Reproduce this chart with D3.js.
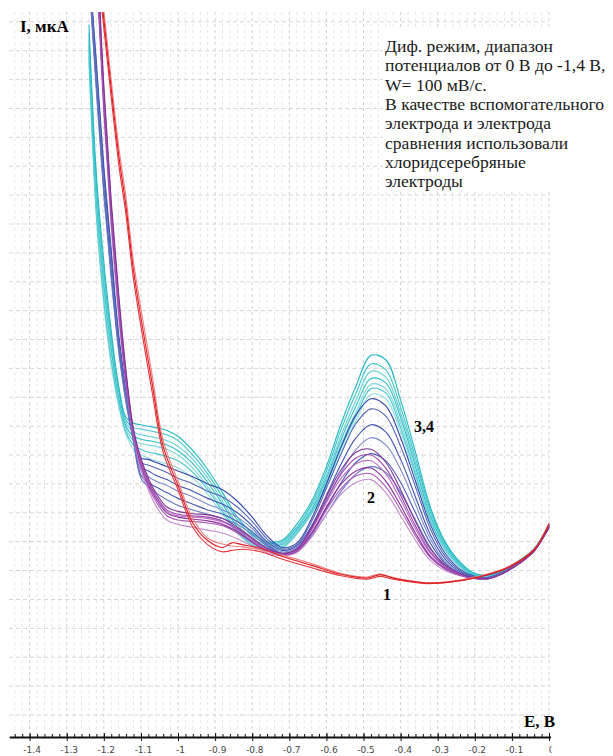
<!DOCTYPE html>
<html>
<head>
<meta charset="utf-8">
<script src="https://cdn.jsdelivr.net/npm/d3@7"></script>
<style>
  body{margin:0;background:#fff;}
  svg{display:block;}
</style>
</head>
<body>
<svg id="svg1" width="613" height="756"></svg>
<script>
'use strict'

// potential grid (V) shared by the coloured scans
let potentials = [-1.24, -1.22, -1.20, -1.18, -1.16, -1.14, -1.12, -1.10, -1.08, -1.06, -1.03, -1.00, -0.96, -0.92, -0.88, -0.84, -0.80, -0.76, -0.72, -0.68, -0.64, -0.60, -0.56, -0.52, -0.48, -0.44, -0.40, -0.36, -0.32, -0.28, -0.24, -0.20, -0.16, -0.12, -0.08, -0.04, 0];

// curves 3,4 (cyan)
let cyan1 = [23.9, 18.7, 15.7, 13.3, 11.4, 10.3, 10.1, 10.05, 10.0, 9.95, 9.85, 9.65, 9.15, 8.5, 7.7, 6.85, 6.3, 6.0, 6.05, 6.6, 7.4, 8.6, 10.1, 11.4, 12.45, 12.3, 10.9, 9.1, 7.2, 6.0, 5.3, 4.9, 4.85, 5.05, 5.35, 5.75, 6.6];
let cyan2 = [23.6, 18.4, 15.4, 13.1, 11.3, 10.2, 9.95, 9.9, 9.85, 9.8, 9.7, 9.5, 9.0, 8.35, 7.55, 6.75, 6.2, 5.95, 6.0, 6.5, 7.3, 8.45, 9.9, 11.15, 12.15, 11.95, 10.65, 8.9, 7.1, 5.95, 5.25, 4.88, 4.85, 5.05, 5.35, 5.75, 6.6];
let cyan3 = [23.4, 18.1, 15.1, 12.9, 11.2, 10.1, 9.8, 9.7, 9.65, 9.6, 9.5, 9.3, 8.85, 8.2, 7.4, 6.6, 6.1, 5.9, 5.95, 6.45, 7.2, 8.3, 9.7, 10.9, 11.9, 11.7, 10.45, 8.75, 7.0, 5.9, 5.22, 4.86, 4.83, 5.03, 5.33, 5.73, 6.6];
let cyan4 = [23.2, 17.9, 14.9, 12.7, 11.0, 10.0, 9.65, 9.55, 9.5, 9.45, 9.35, 9.15, 8.7, 8.05, 7.3, 6.5, 6.0, 5.85, 5.9, 6.4, 7.1, 8.2, 9.55, 10.7, 11.65, 11.5, 10.3, 8.6, 6.9, 5.85, 5.2, 4.85, 4.83, 5.03, 5.33, 5.73, 6.58];
let cyan5 = [23.0, 17.6, 14.6, 12.5, 10.9, 9.9, 9.5, 9.4, 9.35, 9.3, 9.2, 9.0, 8.55, 7.9, 7.15, 6.4, 5.95, 5.8, 5.85, 6.35, 7.05, 8.1, 9.4, 10.5, 11.45, 11.3, 10.1, 8.45, 6.8, 5.8, 5.17, 4.84, 4.82, 5.02, 5.32, 5.72, 6.58];
let cyan6 = [22.8, 17.4, 14.4, 12.3, 10.8, 9.8, 9.35, 9.2, 9.1, 9.05, 8.95, 8.8, 8.4, 7.8, 7.05, 6.35, 5.9, 5.75, 5.8, 6.3, 7.0, 8.0, 9.25, 10.35, 11.3, 11.15, 9.95, 8.35, 6.75, 5.75, 5.15, 4.83, 4.82, 5.02, 5.32, 5.72, 6.58];
let cyan7 = [22.6, 17.2, 14.2, 12.1, 10.7, 9.7, 9.2, 9.0, 8.9, 8.8, 8.7, 8.55, 8.2, 7.65, 6.95, 6.3, 5.85, 5.7, 5.75, 6.25, 6.95, 7.9, 9.1, 10.2, 11.1, 10.95, 9.8, 8.25, 6.7, 5.7, 5.12, 4.82, 4.81, 5.01, 5.31, 5.71, 6.57];

// blue scans
let blue1 = [26, 22.6, 19.0, 16.1, 13.2, 11.3, 9.75, 8.9, 8.85, 8.75, 8.6, 8.45, 8.25, 8.0, 7.8, 7.4, 6.85, 6.2, 5.8, 5.95, 6.8, 8.0, 9.3, 10.4, 10.95, 10.7, 9.6, 8.1, 6.6, 5.6, 5.05, 4.8, 4.78, 4.98, 5.3, 5.7, 6.55];
let blue2 = [26, 22.4, 18.8, 15.9, 13.0, 11.2, 9.65, 8.75, 8.65, 8.55, 8.4, 8.2, 8.0, 7.75, 7.55, 7.2, 6.7, 6.1, 5.75, 5.9, 6.7, 7.85, 9.05, 10.1, 10.6, 10.35, 9.3, 7.9, 6.45, 5.5, 5.0, 4.78, 4.77, 4.97, 5.3, 5.7, 6.55];
let blue3 = [25.8, 22.2, 18.6, 15.7, 12.9, 11.1, 9.6, 8.6, 8.45, 8.3, 8.15, 7.95, 7.75, 7.5, 7.3, 7.0, 6.55, 6.0, 5.7, 5.85, 6.55, 7.6, 8.7, 9.6, 10.05, 9.8, 8.85, 7.55, 6.25, 5.4, 4.95, 4.76, 4.76, 4.96, 5.28, 5.7, 6.55];
let blue4 = [25.8, 22.0, 18.4, 15.5, 12.8, 11.0, 9.55, 8.45, 8.25, 8.1, 7.95, 7.75, 7.55, 7.3, 7.1, 6.85, 6.45, 5.95, 5.65, 5.8, 6.45, 7.4, 8.4, 9.2, 9.6, 9.35, 8.5, 7.3, 6.1, 5.3, 4.9, 4.75, 4.75, 4.95, 5.28, 5.7, 6.55];
let blue5 = [25.6, 21.8, 18.2, 15.3, 12.7, 10.9, 9.5, 8.3, 8.05, 7.9, 7.7, 7.5, 7.3, 7.1, 6.95, 6.7, 6.35, 5.9, 5.6, 5.75, 6.3, 7.15, 8.05, 8.75, 9.05, 8.8, 8.05, 7.0, 5.95, 5.25, 4.88, 4.74, 4.75, 4.95, 5.28, 5.7, 6.55];
let blue6 = [25.5, 21.6, 18.0, 15.1, 12.6, 10.8, 9.45, 8.2, 7.9, 7.7, 7.45, 7.25, 7.1, 6.95, 6.8, 6.6, 6.25, 5.85, 5.58, 5.7, 6.2, 6.95, 7.75, 8.35, 8.6, 8.4, 7.7, 6.75, 5.8, 5.15, 4.85, 4.73, 4.75, 4.95, 5.28, 5.7, 6.55];

// curve 2 (purple)
let purple1 = [30, 26.8, 21.8, 17.8, 14.6, 11.9, 9.9, 8.9, 8.2, 7.7, 7.2, 7.05, 6.97, 6.93, 6.8, 6.5, 6.13, 5.78, 5.6, 5.75, 6.5, 7.55, 8.5, 9.1, 9.2, 8.75, 7.8, 6.7, 5.75, 5.2, 4.9, 4.75, 4.73, 4.93, 5.25, 5.68, 6.5];
let purple2 = [30, 26.5, 21.6, 17.6, 14.4, 11.8, 9.85, 8.8, 8.1, 7.6, 7.1, 6.95, 6.9, 6.85, 6.72, 6.45, 6.1, 5.75, 5.58, 5.72, 6.45, 7.45, 8.35, 8.9, 9.0, 8.55, 7.6, 6.55, 5.65, 5.15, 4.87, 4.74, 4.73, 4.93, 5.25, 5.68, 6.5];
let purple3 = [30, 26.3, 21.4, 17.5, 14.3, 11.7, 9.8, 8.75, 8.05, 7.55, 7.05, 6.9, 6.85, 6.8, 6.68, 6.4, 6.05, 5.72, 5.57, 5.7, 6.4, 7.35, 8.2, 8.7, 8.8, 8.35, 7.45, 6.45, 5.6, 5.12, 4.86, 4.74, 4.73, 4.93, 5.25, 5.68, 6.5];
let purple4 = [30, 26.1, 21.2, 17.3, 14.2, 11.6, 9.75, 8.7, 8.0, 7.5, 7.0, 6.85, 6.78, 6.72, 6.6, 6.35, 6.0, 5.7, 5.56, 5.68, 6.3, 7.2, 8.0, 8.45, 8.55, 8.1, 7.25, 6.3, 5.5, 5.08, 4.85, 4.73, 4.73, 4.93, 5.25, 5.68, 6.5];
let purple5 = [30, 26.0, 21.0, 17.1, 14.0, 11.5, 9.7, 8.6, 7.9, 7.4, 6.9, 6.75, 6.7, 6.65, 6.55, 6.3, 5.97, 5.68, 5.55, 5.66, 6.25, 7.1, 7.85, 8.28, 8.35, 7.9, 7.1, 6.2, 5.45, 5.05, 4.84, 4.73, 4.73, 4.93, 5.25, 5.68, 6.5];
let purple6 = [30, 25.8, 20.8, 16.9, 13.8, 11.4, 9.65, 8.5, 7.8, 7.25, 6.75, 6.6, 6.5, 6.4, 6.3, 6.1, 5.85, 5.62, 5.52, 5.62, 6.15, 6.95, 7.65, 8.05, 8.15, 7.7, 6.9, 6.05, 5.35, 5.0, 4.82, 4.72, 4.73, 4.93, 5.25, 5.68, 6.5];

// curve 1 (red, background) has its own potential grid
let redPotentials = [-1.21, -1.20, -1.16, -1.14, -1.12, -1.07, -1.04, -1.00, -0.96, -0.92, -0.88, -0.855, -0.825, -0.78, -0.71, -0.64, -0.56, -0.49, -0.455, -0.42, -0.33, -0.27, -0.19, -0.11, -0.04, 0];
let red1 = [25.3, 24.1, 19.4, 17.6, 15.4, 11.5, 9.3, 7.95, 6.65, 6.04, 5.8, 5.96, 5.89, 5.78, 5.45, 5.18, 4.87, 4.74, 4.86, 4.74, 4.57, 4.6, 4.77, 5.1, 5.72, 6.6];
let red2 = [25.0, 23.8, 19.1, 17.3, 15.1, 11.2, 9.1, 7.8, 6.5, 5.9, 5.65, 5.7, 5.74, 5.66, 5.36, 5.1, 4.82, 4.7, 4.8, 4.7, 4.55, 4.6, 4.78, 5.12, 5.74, 6.62];
let red3 = [25.6, 24.4, 19.7, 17.9, 15.7, 11.8, 9.5, 8.1, 6.8, 6.12, 5.92, 5.85, 5.82, 5.72, 5.5, 5.24, 4.9, 4.78, 4.88, 4.76, 4.58, 4.62, 4.8, 5.12, 5.74, 6.65];

// x axis ticks
let xTicks = [-1.4, -1.3, -1.2, -1.1, -1.0, -0.9, -0.8, -0.7, -0.6, -0.5, -0.4, -0.3, -0.2, -0.1, 0];
let xTickLabels = ["-1.4", "-1.3", "-1.2", "-1.1", "-1", "-0.9", "-0.8", "-0.7", "-0.6", "-0.5", "-0.4", "-0.3", "-0.2", "-0.1", "0"];

let noteLines = ["Диф. режим, диапазон", "потенциалов от 0 В до -1,4 В,", "W= 100 мВ/с.", "В качестве вспомогательного", "электрода и электрода", "сравнения использовали", "хлоридсеребряные", "электроды"];

let cyanSet   = [cyan7, cyan6, cyan5, cyan4, cyan3, cyan2, cyan1];
let cyanCols  = ["#8fdde0", "#43c6cc", "#7ad8dc", "#2fbdc5", "#5fd0d4", "#3cc3ca", "#22b8c2"];
let blueSet   = [blue1, blue2, blue3, blue4, blue5, blue6];
let blueCols  = ["#3347a8", "#5565b8", "#3d52b0", "#7b89ca", "#4a5cb5", "#6676c2"];
let purpleSet = [purple6, purple5, purple4, purple3, purple2, purple1];
let purpleCols = ["#c48ccf", "#a658b5", "#8a2f9b", "#b56dc2", "#9d45ad", "#7f3596"];
let redSet    = [red3, red2, red1];
let redCols   = ["#ec8080", "#e4363c", "#dd1a20"];


/**
 * @function
 * @description draw the voltammogram
 */
function drawChart(){
  let svg = d3.select("#svg1");

  let x = d3.scaleLinear().domain([-1.455, 0.004]).range([9.2, 550.5]);
  let y = d3.scaleLinear().domain([-0.762, 24.34]).range([737, 12]);

  // minor grid (every 0.02 V), major every 0.1 V
  let minorX = d3.range(-1.44, 0.001, 0.02).map(d => Math.round(d * 100) / 100);
  let grid = svg.append("g").attr("class", "grid");
  grid.selectAll(".vminor")
    .data(minorX)
    .enter().append("line")
      .attr("x1", d => x(d)).attr("x2", d => x(d))
      .attr("y1", 12).attr("y2", 733)
      .attr("stroke", d => (Math.abs(d * 10 - Math.round(d * 10)) < 1e-6) ? "#d0d0d0" : "#e6e6e6")
      .attr("stroke-width", 1)
      .attr("stroke-dasharray", "3,3");

  grid.selectAll(".hline")
    .data(d3.range(0, 25))
    .enter().append("line")
      .attr("x1", 9).attr("x2", x(0))
      .attr("y1", d => y(d)).attr("y2", d => y(d))
      .attr("stroke", "#d6d6d6")
      .attr("stroke-width", 1)
      .attr("stroke-dasharray", "4,3");

  // white box behind the note
  svg.append("rect")
    .attr("x", 383).attr("y", 30).attr("width", 230).attr("height", 162)
    .attr("fill", "#fff");

  // curves
  svg.append("clipPath").attr("id", "plotClip")
    .append("rect").attr("x", 9).attr("y", 12).attr("width", 542).attr("height", 725);

  let plot = svg.append("g").attr("clip-path", "url(#plotClip)");

  let line = d3.line()
    .x(d => x(d[0]))
    .y(d => y(d[1]))
    .curve(d3.curveCatmullRom.alpha(0.5));

  function addFamily(set, cols, xs){
    set.forEach((vals, i) => {
      plot.append("path")
        .datum(xs.map((e, j) => [e, vals[j]]))
        .attr("d", line)
        .attr("fill", "none")
        .attr("stroke", cols[i])
        .attr("stroke-width", 1.1);
    });
  }
  addFamily(cyanSet, cyanCols, potentials);
  addFamily(blueSet, blueCols, potentials);
  addFamily(purpleSet, purpleCols, potentials);
  addFamily(redSet, redCols, redPotentials);

  // x axis (the "0" label is cut at the right edge of the plot, as in the original)
  svg.append("clipPath").attr("id", "axisClip")
    .append("rect").attr("x", 0).attr("y", 700).attr("width", 551.5).attr("height", 56);
  let axisWrap = svg.append("g").attr("clip-path", "url(#axisClip)");

  let minorAxis = axisWrap.append("g")
    .attr("transform", "translate(0,737)")
    .call(d3.axisBottom(x).tickValues(minorX).tickFormat("").tickSize(0).tickSizeOuter(0));
  minorAxis.select(".domain").remove();
  minorAxis.selectAll(".tick line").attr("y1", -3).attr("y2", 0).attr("stroke", "#111");

  let xAxis = axisWrap.append("g")
    .attr("transform", "translate(0,737)")
    .call(d3.axisBottom(x).tickValues(xTicks).tickFormat((d, i) => xTickLabels[i]).tickSize(4).tickSizeOuter(0));
  xAxis.select(".domain").attr("stroke", "#111").attr("stroke-width", 2);
  xAxis.selectAll(".tick line").attr("y1", -4).attr("y2", 4).attr("stroke", "#111");
  xAxis.selectAll(".tick text")
    .attr("y", 10)
    .attr("dx", "2")
    .attr("fill", "#444")
    .style("font-family", "DejaVu Sans, sans-serif")
    .style("font-size", "9px");

  // axis titles
  svg.append("text").attr("x", 20).attr("y", 32)
    .style("font-family", "Liberation Serif, Times New Roman, serif")
    .style("font-weight", "bold").style("font-size", "17px")
    .text("I, мкА");
  svg.append("text").attr("x", 524).attr("y", 727)
    .style("font-family", "Liberation Serif, Times New Roman, serif")
    .style("font-weight", "bold").style("font-size", "17px")
    .text("E, B");

  // curve numbers
  let marks = [["3,4", 414, 432], ["2", 367, 503], ["1", 383, 600]];
  svg.selectAll(".mark")
    .data(marks)
    .enter().append("text")
      .attr("x", d => d[1]).attr("y", d => d[2])
      .style("font-family", "Liberation Serif, Times New Roman, serif")
      .style("font-weight", "bold").style("font-size", "16px")
      .text(d => d[0]);

  // note
  let note = svg.append("text")
    .attr("x", 385).attr("y", 52)
    .attr("fill", "#1a1a1a")
    .style("font-family", "Liberation Serif, Times New Roman, serif")
    .style("font-size", "17.6px");
  noteLines.forEach((t, i) => {
    note.append("tspan").attr("x", 385).attr("dy", i === 0 ? 0 : 19.3).text(t);
  });
}

drawChart();
</script>
</body>
</html>
